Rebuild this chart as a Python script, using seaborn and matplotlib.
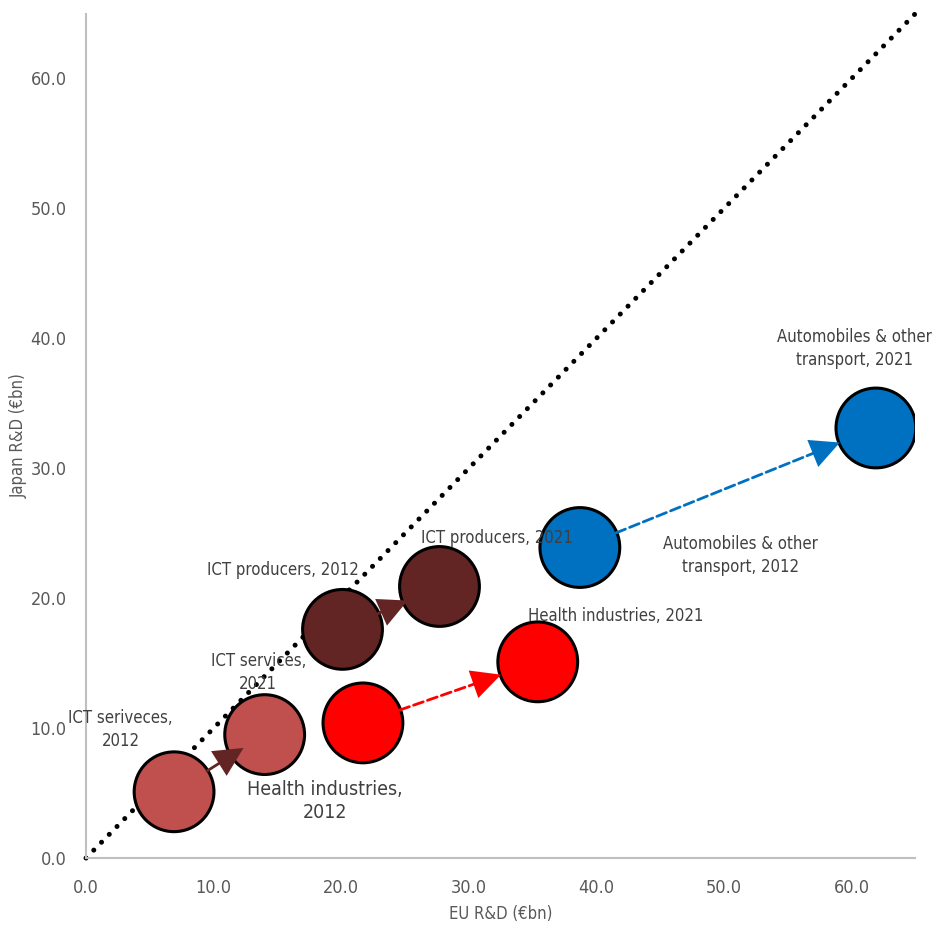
import seaborn as sns
import pandas as pd
import matplotlib.pyplot as plt

# Data (EUR bn)
sectors = ["ICT services", "ICT producers", "Health industries", "Automobiles & other transport"]
eu_2012 = [6.9, 20.1, 21.7, 38.7]
jp_2012 = [5.1, 17.6, 10.4, 23.9]
eu_2021 = [14.0, 27.7, 35.4, 61.9]
jp_2021 = [9.5, 20.9, 15.1, 33.1]
colors = ["#C0504D", "#632523", "#FF0000", "#0070C0"]
arrow_colors = ["#632523", "#632523", "#FF0000", "#0070C0"]
arrow_dashed = [False, False, True, True]
tip_shrink = [18, 25, 28, 28]

ticks = [0, 10, 20, 30, 40, 50, 60]
diag = [0, 65]

labels = [
    ("ICT seriveces,\n2012", 2.7, 9.9),
    ("ICT services,\n2021", 13.5, 14.3),
    ("ICT producers, 2012", 15.4, 22.2),
    ("ICT producers, 2021", 32.2, 24.6),
    ("Health industries, 2021", 41.5, 18.6),
    ("Automobiles & other\ntransport, 2012", 51.3, 23.3),
    ("Automobiles & other\ntransport, 2021", 60.2, 39.2),
]

sns.set_style("white")
plt.rcParams['font.family'] = ['DejaVu Sans']
plt.rcParams['font.stretch'] = 'condensed'

df = pd.DataFrame({
    "sector": sectors * 2,
    "eu": eu_2012 + eu_2021,
    "jp": jp_2012 + jp_2021,
})

fig = plt.figure(figsize=(9.33, 9.25), dpi=100)
ax = fig.add_axes([0.0922, 0.0724, 0.889, 0.913])

# 45 degree reference line
ax.plot(diag, diag, color="black", lw=3.6, ls=(0, (0.01, 2.2)),
        dash_capstyle="round", zorder=1, clip_on=False)

sns.scatterplot(data=df, x="eu", y="jp", hue="sector", palette=colors,
                s=3300, edgecolor="black", linewidth=2.2, legend=False,
                ax=ax, zorder=3)

head_len = 21  # points
for i in range(len(sectors)):
    start = (eu_2012[i], jp_2012[i])
    end = (eu_2021[i], jp_2021[i])
    # shaft
    ax.annotate("", xy=end, xytext=start,
                arrowprops=dict(arrowstyle="-", color=arrow_colors[i], lw=2,
                                ls="--" if arrow_dashed[i] else "-",
                                shrinkA=28, shrinkB=tip_shrink[i] + head_len - 2),
                zorder=4)
    # solid head
    ax.annotate("", xy=end, xytext=start,
                arrowprops=dict(arrowstyle="-|>,head_length=0.5,head_width=0.25",
                                mutation_scale=42, color=arrow_colors[i], lw=0,
                                shrinkA=0, shrinkB=tip_shrink[i]),
                zorder=4)

for txt, x, y in labels:
    ax.text(x, y, txt, ha="center", va="center", fontsize=12,
            color="#404040", linespacing=1.35, zorder=5)
ax.text(18.7, 4.4, "Health industries,\n2012", ha="center", va="center",
        fontsize=14, color="#404040", linespacing=1.25, zorder=5)

ax.set_xlim(0, 65)
ax.set_ylim(0, 65)
ax.set_xticks(ticks)
ax.set_yticks(ticks)
ax.set_xticklabels([f"{t:.1f}" for t in ticks])
ax.set_yticklabels([f"{t:.1f}" for t in ticks])
ax.tick_params(length=0, labelsize=13, labelcolor="#595959")
ax.tick_params(axis="x", pad=15)
ax.tick_params(axis="y", pad=14)
ax.set_xlabel("EU R&D (€bn)", fontsize=12, color="#595959", labelpad=6)
ax.set_ylabel("Japan R&D (€bn)", fontsize=12, color="#595959", labelpad=2)

sns.despine(ax=ax)
for side in ["left", "bottom"]:
    ax.spines[side].set_color("#BFBFBF")
    ax.spines[side].set_linewidth(1.5)

fig.savefig("out.png", dpi=100)
